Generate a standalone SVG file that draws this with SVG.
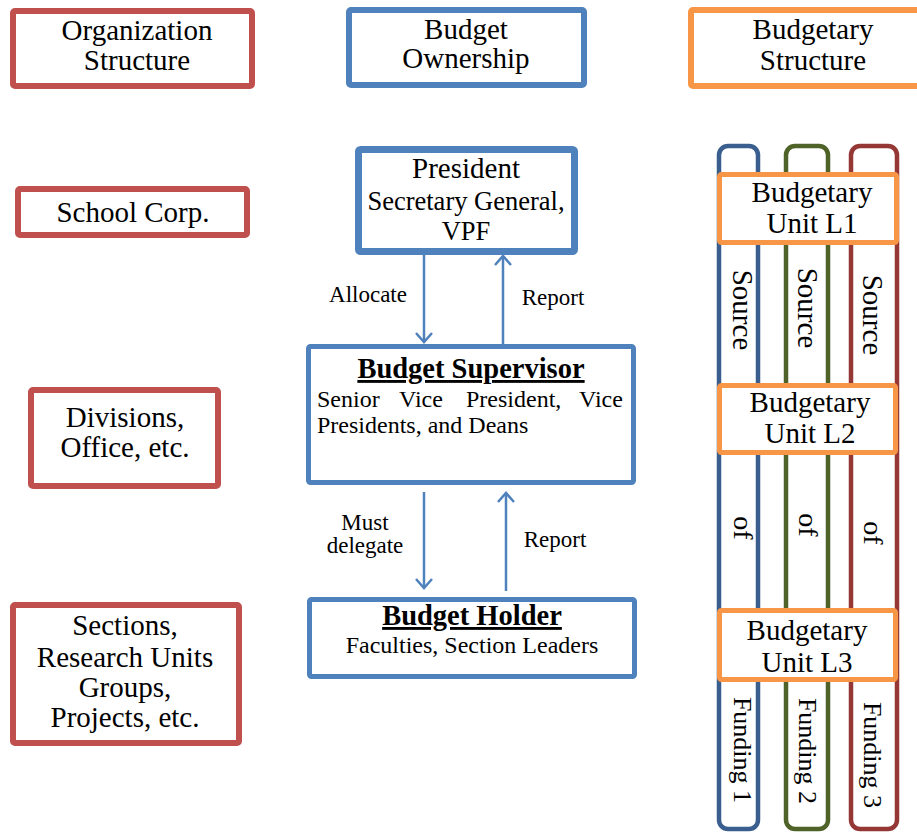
<svg xmlns="http://www.w3.org/2000/svg" width="917" height="832" viewBox="0 0 917 832">
<defs>
<style>
text{font-family:"Liberation Serif","Times New Roman",serif;fill:#000;}
.c{text-anchor:middle;}
.h{font-size:29px;}
.b{font-size:29px;}
.lab{font-size:23px;}
.body{font-size:24px;}
.ttl{font-size:28.5px;font-weight:bold;text-decoration:underline;}
.red{fill:#fff;stroke:#C0504D;stroke-width:6;}
.blue{fill:#fff;stroke:#4F81BD;}
.org{fill:#fff;stroke:#F79646;}
.bar{fill:none;stroke-width:4.5;}
.conn{stroke:#4F81BD;stroke-width:2.5;fill:none;}
</style>
<marker id="chev" viewBox="-11 -10 13 20" refX="0" refY="0" markerWidth="13" markerHeight="20" markerUnits="userSpaceOnUse" orient="auto" overflow="visible">
<path d="M-9,-8 L0,0 L-9,8" fill="none" stroke="#4F81BD" stroke-width="2.5"/>
</marker>
</defs>
<rect width="917" height="832" fill="#fff"/>

<!-- Headers -->
<g id="hdr-org">
<rect class="red" x="13" y="11" width="239" height="75" rx="2"/>
<text class="h c" x="137" y="40">Organization</text>
<text class="h c" x="137" y="70">Structure</text>
</g>
<g id="hdr-own">
<rect class="blue" stroke-width="6" x="349" y="10" width="235" height="75" rx="2"/>
<text class="h c" x="466" y="39">Budget</text>
<text class="h c" x="466" y="68">Ownership</text>
</g>
<g id="hdr-bs">
<rect class="org" stroke-width="6" x="691" y="10" width="240" height="76" rx="2"/>
<text class="h c" x="813" y="39">Budgetary</text>
<text class="h c" x="813" y="70">Structure</text>
</g>

<!-- Left column -->
<g id="school-corp">
<rect class="red" x="18" y="189" width="229" height="46" rx="2"/>
<text class="b c" x="133" y="222">School Corp.</text>
</g>
<g id="divisions">
<rect class="red" x="31" y="390" width="187" height="96" rx="2"/>
<text class="b c" x="125" y="427">Divisions,</text>
<text class="b c" x="125" y="457">Office, etc.</text>
</g>
<g id="sections">
<rect class="red" x="13" y="605" width="226" height="138" rx="2"/>
<text class="b c" x="125" y="635">Sections,</text>
<text class="b c" x="125" y="667">Research Units</text>
<text class="b c" x="125" y="697">Groups,</text>
<text class="b c" x="125" y="727">Projects, etc.</text>
</g>

<!-- Middle column -->
<g id="president">
<rect class="blue" stroke-width="7" x="358.5" y="149.5" width="216" height="102" rx="2"/>
<text class="c" x="466" y="178" font-size="29">President</text>
<text class="c" x="466" y="210" font-size="26.5">Secretary General,</text>
<text class="c" x="466" y="240" font-size="26.5">VPF</text>
</g>
<g id="supervisor">
<rect class="blue" stroke-width="5" x="308.5" y="346.5" width="325" height="136" rx="2"/>
<text class="ttl c" x="471" y="378">Budget Supervisor</text>
<text class="body" y="407"><tspan x="317">Senior</tspan><tspan x="399">Vice</tspan><tspan x="466">President,</tspan><tspan x="579">Vice</tspan></text>
<text class="body" x="317" y="433">Presidents, and Deans</text>
</g>
<g id="holder">
<rect class="blue" stroke-width="5" x="309.5" y="599.5" width="325" height="77" rx="2"/>
<text class="ttl c" x="472" y="625">Budget Holder</text>
<text class="body c" x="472" y="653" font-size="23.5">Faculties, Section Leaders</text>
</g>

<!-- Right column bars -->
<g id="funding-1">
<rect class="bar" stroke="#3A5F8E" x="719" y="146" width="39" height="683" rx="9"/>
<text class="c" font-size="29" transform="translate(743,310) rotate(90)" x="0" y="10">Source</text>
<text class="c" font-size="28" transform="translate(743,528) rotate(90)" x="0" y="9">of</text>
<text class="c" font-size="26" transform="translate(743,750) rotate(90)" x="0" y="9">Funding 1</text>
</g>
<g id="funding-2">
<rect class="bar" stroke="#4F6228" x="786" y="146" width="42" height="683" rx="9"/>
<text class="c" font-size="29" transform="translate(808,308) rotate(90)" x="0" y="10">Source</text>
<text class="c" font-size="28" transform="translate(808,525) rotate(90)" x="0" y="9">of</text>
<text class="c" font-size="26" transform="translate(808,751) rotate(90)" x="0" y="9">Funding 2</text>
</g>
<g id="funding-3">
<rect class="bar" stroke="#953735" x="851" y="146" width="46" height="683" rx="9"/>
<text class="c" font-size="29" transform="translate(873,315) rotate(90)" x="0" y="10">Source</text>
<text class="c" font-size="28" transform="translate(873,533) rotate(90)" x="0" y="9">of</text>
<text class="c" font-size="26" transform="translate(873,755) rotate(90)" x="0" y="9">Funding 3</text>
</g>

<g id="unit-l1">
<rect class="org" stroke-width="5" x="719.5" y="174.5" width="177" height="68" rx="2"/>
<text class="b c" x="812" y="202">Budgetary</text>
<text class="b c" x="812" y="233">Unit L1</text>
</g>
<g id="unit-l2">
<rect class="org" stroke-width="5" x="719.5" y="385.5" width="176" height="67" rx="2"/>
<text class="b c" x="810" y="412">Budgetary</text>
<text class="b c" x="810" y="443">Unit L2</text>
</g>
<g id="unit-l3">
<rect class="org" stroke-width="5" x="719.5" y="610.5" width="176" height="69" rx="2"/>
<text class="b c" x="807" y="640">Budgetary</text>
<text class="b c" x="807" y="672">Unit L3</text>
</g>

<!-- Connectors -->
<g id="connectors">
<line class="conn" x1="424" y1="255" x2="424" y2="342" marker-end="url(#chev)"/>
<line class="conn" x1="503" y1="344" x2="503" y2="256" marker-end="url(#chev)"/>
<line class="conn" x1="424" y1="492" x2="424" y2="588" marker-end="url(#chev)"/>
<line class="conn" x1="506" y1="591" x2="506" y2="493" marker-end="url(#chev)"/>
<text class="lab c" x="368" y="302">Allocate</text>
<text class="lab c" x="553" y="305">Report</text>
<text class="lab c" x="365" y="530">Must</text>
<text class="lab c" x="365" y="553">delegate</text>
<text class="lab c" x="555" y="547">Report</text>
</g>
</svg>
